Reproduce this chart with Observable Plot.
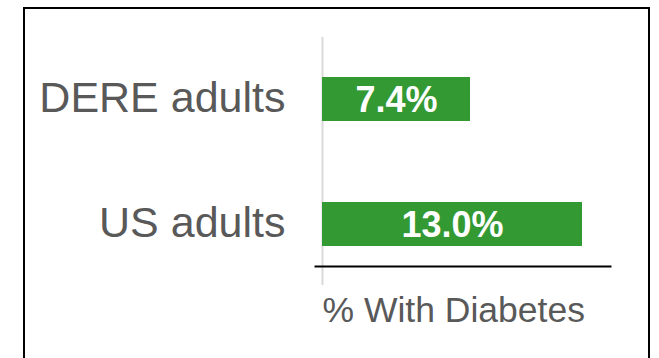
<!DOCTYPE html>
<html>
<head>
<meta charset="utf-8">
<script src="https://cdn.jsdelivr.net/npm/d3@7"></script>
<script src="https://cdn.jsdelivr.net/npm/@observablehq/plot@0.6"></script>
<style>
  html, body { margin: 0; padding: 0; background: #fff; overflow: hidden; width: 659px; height: 358px; }
  #box { position: absolute; left: 23px; top: 7px; width: 623px; height: 420px; border: 2px solid #000; }
  #chart { position: absolute; left: 0; top: 0; }
  #chart svg { font-family: "Liberation Sans", Arial, sans-serif; }
</style>
</head>
<body>
<div id="box"></div>
<div id="chart"></div>
<script>
const categories = ["DERE adults", "US adults"];
const values = [7.4, 13.0];
const valueLabels = ["7.4%", "13.0%"];
const axisTitle = "% With Diabetes";

const data = categories.map((c, i) => ({category: c, value: values[i], label: valueLabels[i]}));

const plot = Plot.plot({
  width: 659,
  height: 358,
  marginLeft: 315,
  marginRight: 49,
  marginTop: 57,
  marginBottom: 92,
  style: {background: "transparent", fontFamily: "'Liberation Sans', Arial, sans-serif"},
  x: {domain: [0, 14.4], insetLeft: 7, axis: null},
  y: {domain: categories, paddingInner: 0.648, paddingOuter: 0.16, axis: null},
  marks: [
    Plot.ruleX([0], {stroke: "#d9d9d9", strokeWidth: 2, insetTop: -20, insetBottom: -19}),
    Plot.barX(data, {x: "value", y: "category", fill: "#339933"}),
    Plot.text(data, {x: d => d.value / 2, y: "category", text: "label", fill: "#fff", fontWeight: "bold", fontSize: 36, dy: 1}),
    Plot.axisY({tickSize: 0, tickPadding: 30, fontSize: 43, color: "#595959", dy: -1, label: null}),
    Plot.frame({anchor: "bottom", stroke: "#000", strokeWidth: 2}),
    Plot.text([axisTitle], {frameAnchor: "bottom-left", text: d => d, textAnchor: "start", lineAnchor: "middle", fontSize: 35.5, fill: "#595959", dx: 7, dy: 44})
  ]
});

document.getElementById("chart").appendChild(plot);
</script>
</body>
</html>
